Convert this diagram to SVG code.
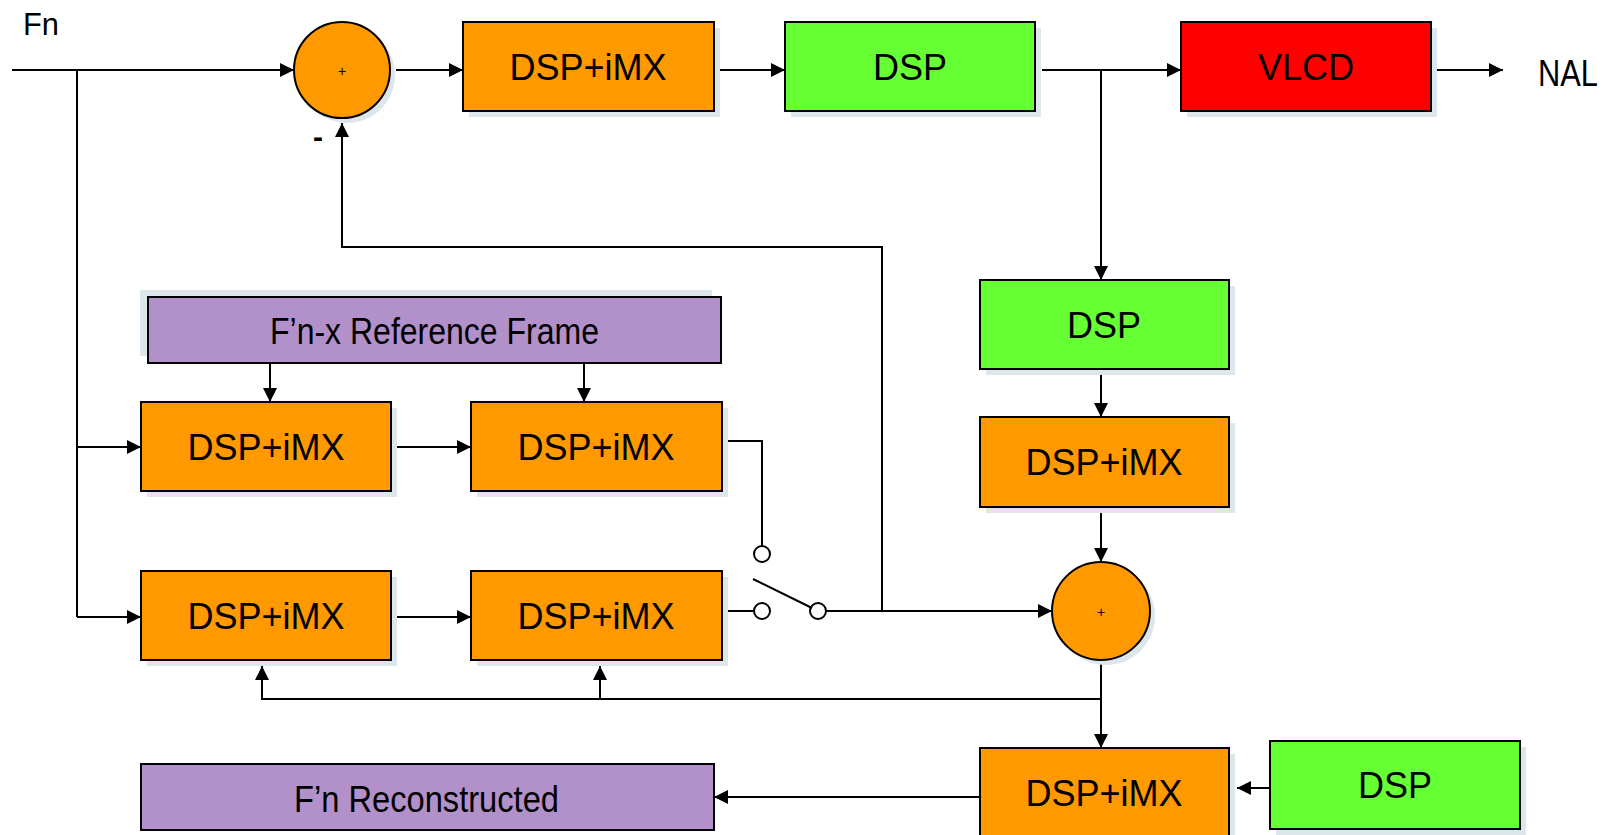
<svg xmlns="http://www.w3.org/2000/svg" width="1610" height="835" viewBox="0 0 1610 835">
<style>
.box{stroke:#000;stroke-width:2}
.sh{fill:#dce6eb}
.org{fill:#FF9900}
.grn{fill:#66FF33}
.red{fill:#FF0000}
.pur{fill:#B290C9}
.lbl{font-family:"Liberation Sans",Arial,sans-serif;font-size:36px;fill:#000;text-anchor:middle}
.nar{font-family:"Liberation Sans",Arial,sans-serif;fill:#000}
.plus{font-family:"Liberation Sans",Arial,sans-serif;font-size:14px;fill:#000;text-anchor:middle}
.con{fill:none;stroke:#000;stroke-width:2}
</style>
<defs>
<marker id="ah" viewBox="0 0 14 14" refX="14" refY="7" markerWidth="14" markerHeight="14" markerUnits="userSpaceOnUse" orient="auto"><path d="M0,0 L14,7 L0,14 z" fill="#000"/></marker>
</defs>
<rect width="1610" height="835" fill="#fff"/>

<g id="connectors">
<path class="con" d="M12,70 H294" marker-end="url(#ah)"/>
<path class="con" d="M77,70 V617"/>
<path class="con" d="M77,447 H141" marker-end="url(#ah)"/>
<path class="con" d="M77,617 H141" marker-end="url(#ah)"/>
<path class="con" d="M396,70 H463" marker-end="url(#ah)"/>
<path class="con" d="M719,70 H785" marker-end="url(#ah)"/>
<path class="con" d="M1042,70 H1181" marker-end="url(#ah)"/>
<path class="con" d="M1436,70 H1503" marker-end="url(#ah)"/>
<path class="con" d="M1101,70 V280" marker-end="url(#ah)"/>
<path class="con" d="M1101,375 V417" marker-end="url(#ah)"/>
<path class="con" d="M1101,512 V562" marker-end="url(#ah)"/>
<path class="con" d="M270,363 V402" marker-end="url(#ah)"/>
<path class="con" d="M584,363 V402" marker-end="url(#ah)"/>
<path class="con" d="M397,447 H471" marker-end="url(#ah)"/>
<path class="con" d="M397,617 H471" marker-end="url(#ah)"/>
<path class="con" d="M727,441 H762 V546"/>
<path class="con" d="M727,611 H754"/>
<circle class="con" cx="762" cy="554" r="8"/>
<circle class="con" cx="762" cy="611" r="8"/>
<circle class="con" cx="818" cy="611" r="8"/>
<path class="con" d="M753,579 L812,608"/>
<path class="con" d="M826,611 H1052" marker-end="url(#ah)"/>
<path class="con" d="M882,611 V247 H342 V123" marker-end="url(#ah)"/>
<path class="con" d="M1101,660 V748" marker-end="url(#ah)"/>
<path class="con" d="M1101,699 H262 V666" marker-end="url(#ah)"/>
<path class="con" d="M600,699 V666" marker-end="url(#ah)"/>
<path class="con" d="M980,797 H714" marker-end="url(#ah)"/>
<path class="con" d="M1270,788 H1237" marker-end="url(#ah)"/>
</g>

<g id="label-fn"><text class="nar" x="23" y="35" font-size="31" textLength="36" lengthAdjust="spacingAndGlyphs">Fn</text></g>
<g id="label-nal"><text class="nar" x="1538" y="86" font-size="36" textLength="60" lengthAdjust="spacingAndGlyphs">NAL</text></g>
<g id="label-minus"><text class="nar" x="318" y="147" font-size="30" font-weight="bold" text-anchor="middle">-</text></g>

<g id="sum1">
<circle class="sh" cx="347" cy="75" r="48"/>
<circle class="box org" cx="342" cy="70" r="48"/>
<text class="plus" x="342" y="76">+</text>
</g>

<g id="top-dspimx">
<rect class="sh" x="469" y="28" width="251" height="89"/>
<rect class="box org" x="463" y="22" width="251" height="89"/>
<text class="lbl" x="588" y="80">DSP+iMX</text>
</g>
<g id="top-dsp">
<rect class="sh" x="791" y="28" width="250" height="89"/>
<rect class="box grn" x="785" y="22" width="250" height="89"/>
<text class="lbl" x="910" y="80">DSP</text>
</g>
<g id="vlcd">
<rect class="sh" x="1187" y="28" width="250" height="89"/>
<rect class="box red" x="1181" y="22" width="250" height="89"/>
<text class="lbl" x="1306" y="80">VLCD</text>
</g>

<g id="dsp-right">
<rect class="sh" x="986" y="286" width="249" height="89"/>
<rect class="box grn" x="980" y="280" width="249" height="89"/>
<text class="lbl" x="1104" y="338">DSP</text>
</g>
<g id="dspimx-right">
<rect class="sh" x="986" y="423" width="249" height="90"/>
<rect class="box org" x="980" y="417" width="249" height="90"/>
<text class="lbl" x="1104" y="475">DSP+iMX</text>
</g>
<g id="sum2">
<circle class="sh" cx="1106" cy="616" r="49"/>
<circle class="box org" cx="1101" cy="611" r="49"/>
<text class="plus" x="1101" y="617">+</text>
</g>
<g id="dspimx-bottom">
<rect class="sh" x="986" y="754" width="249" height="90"/>
<rect class="box org" x="980" y="748" width="249" height="90"/>
<text class="lbl" x="1104" y="806">DSP+iMX</text>
</g>
<g id="dsp-bottom">
<rect class="sh" x="1276" y="747" width="250" height="88"/>
<rect class="box grn" x="1270" y="741" width="250" height="88"/>
<text class="lbl" x="1395" y="798">DSP</text>
</g>

<g id="ref-frame">
<rect class="sh" x="140" y="290" width="572" height="66"/>
<rect class="box pur" x="148" y="297" width="573" height="66"/>
<text class="nar" x="270" y="344" font-size="37" textLength="329" lengthAdjust="spacingAndGlyphs">F’n-x Reference Frame</text>
</g>

<g id="r1-a">
<rect class="sh" x="147" y="408" width="250" height="89"/>
<rect class="box org" x="141" y="402" width="250" height="89"/>
<text class="lbl" x="266" y="460">DSP+iMX</text>
</g>
<g id="r1-b">
<rect class="sh" x="477" y="408" width="251" height="89"/>
<rect class="box org" x="471" y="402" width="251" height="89"/>
<text class="lbl" x="596" y="460">DSP+iMX</text>
</g>
<g id="r2-a">
<rect class="sh" x="147" y="577" width="250" height="89"/>
<rect class="box org" x="141" y="571" width="250" height="89"/>
<text class="lbl" x="266" y="629">DSP+iMX</text>
</g>
<g id="r2-b">
<rect class="sh" x="477" y="577" width="251" height="89"/>
<rect class="box org" x="471" y="571" width="251" height="89"/>
<text class="lbl" x="596" y="629">DSP+iMX</text>
</g>

<g id="reconstructed">
<rect class="box pur" x="141" y="764" width="573" height="66"/>
<text class="nar" x="294" y="812" font-size="37" textLength="265" lengthAdjust="spacingAndGlyphs">F’n Reconstructed</text>
</g>
</svg>
